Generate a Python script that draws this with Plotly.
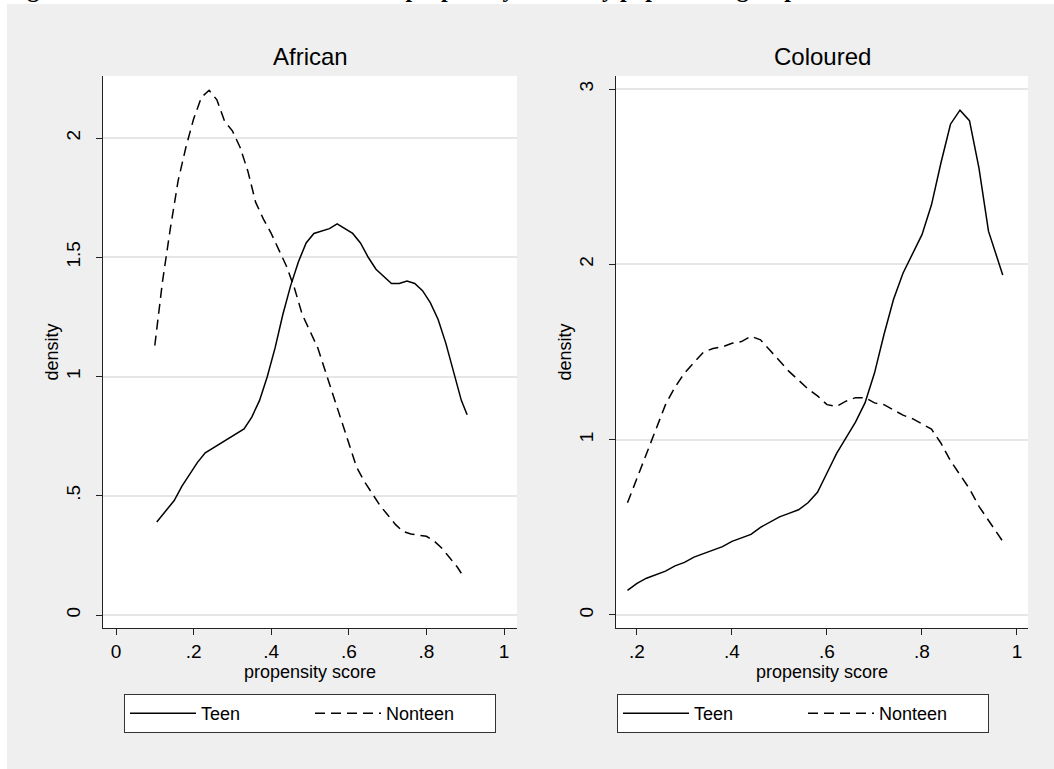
import plotly.graph_objects as go

# ---------------- data ----------------
african_x = [0.105, 0.13, 0.15, 0.17, 0.19, 0.21, 0.23, 0.25, 0.27, 0.29, 0.31, 0.33, 0.35, 0.37,
             0.39, 0.41, 0.43, 0.45, 0.47, 0.49, 0.51, 0.53, 0.55, 0.57, 0.59, 0.61, 0.63, 0.65,
             0.67, 0.69, 0.71, 0.73, 0.75, 0.77, 0.79, 0.81, 0.83, 0.85, 0.87, 0.89, 0.905]
african_teen = [0.39, 0.44, 0.48, 0.54, 0.59, 0.64, 0.68, 0.70, 0.72, 0.74, 0.76, 0.78, 0.83, 0.90,
                1.00, 1.12, 1.26, 1.38, 1.48, 1.56, 1.60, 1.61, 1.62, 1.64, 1.62, 1.60, 1.56, 1.50,
                1.45, 1.42, 1.39, 1.39, 1.40, 1.39, 1.36, 1.31, 1.24, 1.14, 1.02, 0.90, 0.84]

african_x_non = [0.10, 0.12, 0.14, 0.16, 0.18, 0.20, 0.22, 0.24, 0.26, 0.28, 0.30, 0.32, 0.34, 0.36,
                 0.38, 0.40, 0.42, 0.44, 0.46, 0.48, 0.50, 0.52, 0.54, 0.56, 0.58, 0.60, 0.62, 0.64,
                 0.66, 0.68, 0.70, 0.72, 0.74, 0.76, 0.78, 0.80, 0.82, 0.84, 0.86, 0.88, 0.89]
african_nonteen = [1.13, 1.40, 1.62, 1.82, 1.96, 2.08, 2.17, 2.20, 2.16, 2.07, 2.03, 1.96, 1.86, 1.73,
                   1.66, 1.60, 1.53, 1.46, 1.37, 1.26, 1.19, 1.12, 1.02, 0.92, 0.82, 0.73, 0.62, 0.56,
                   0.51, 0.46, 0.42, 0.38, 0.35, 0.34, 0.335, 0.33, 0.31, 0.28, 0.24, 0.20, 0.175]

coloured_x = [0.18, 0.20, 0.22, 0.24, 0.26, 0.28, 0.30, 0.32, 0.34, 0.36, 0.38, 0.40, 0.42, 0.44,
              0.46, 0.48, 0.50, 0.52, 0.54, 0.56, 0.58, 0.60, 0.62, 0.64, 0.66, 0.68, 0.70, 0.72,
              0.74, 0.76, 0.78, 0.80, 0.82, 0.84, 0.86, 0.88, 0.90, 0.92, 0.94, 0.96, 0.97]
coloured_teen = [0.14, 0.18, 0.21, 0.23, 0.25, 0.28, 0.30, 0.33, 0.35, 0.37, 0.39, 0.42, 0.44, 0.46,
                 0.50, 0.53, 0.56, 0.58, 0.60, 0.64, 0.70, 0.81, 0.92, 1.01, 1.10, 1.21, 1.38, 1.60,
                 1.80, 1.95, 2.06, 2.17, 2.34, 2.58, 2.80, 2.88, 2.82, 2.55, 2.19, 2.03, 1.94]
coloured_nonteen = [0.64, 0.78, 0.93, 1.07, 1.20, 1.30, 1.38, 1.44, 1.50, 1.52, 1.53, 1.55, 1.56, 1.59,
                    1.57, 1.51, 1.45, 1.39, 1.34, 1.29, 1.25, 1.20, 1.19, 1.22, 1.24, 1.24, 1.21, 1.20,
                    1.17, 1.14, 1.12, 1.09, 1.06, 0.98, 0.88, 0.80, 0.72, 0.62, 0.54, 0.46, 0.42]

series_names = ["Teen", "Nonteen"]
panel_titles = ["African", "Coloured"]
x_ticks_left = [0, 0.2, 0.4, 0.6, 0.8, 1]
x_ticktext_left = ["0", ".2", ".4", ".6", ".8", "1"]
x_ticks_right = [0.2, 0.4, 0.6, 0.8, 1]
x_ticktext_right = [".2", ".4", ".6", ".8", "1"]
y_ticks_left = [0, 0.5, 1, 1.5, 2]
y_ticktext_left = ["0", ".5", "1", "1.5", "2"]
y_ticks_right = [0, 1, 2, 3]
y_ticktext_right = ["0", "1", "2", "3"]
main_title = "Figure 3: Distribution of the estimated propensity scores by population group"

# ---------------- figure ----------------
W, H = 1054, 769
FONT = "Arial, 'Liberation Sans', sans-serif"
solid = dict(color="black", width=1.5)
dashed = dict(color="black", width=1.5, dash="10px,6px")

fig = go.Figure()
fig.add_trace(go.Scatter(x=african_x, y=african_teen, mode="lines", name=series_names[0],
                         line=solid, xaxis="x", yaxis="y", legend="legend"))
fig.add_trace(go.Scatter(x=african_x_non, y=african_nonteen, mode="lines", name=series_names[1],
                         line=dashed, xaxis="x", yaxis="y", legend="legend"))
fig.add_trace(go.Scatter(x=coloured_x, y=coloured_teen, mode="lines", name=series_names[0],
                         line=solid, xaxis="x2", yaxis="y2", legend="legend2"))
fig.add_trace(go.Scatter(x=coloured_x, y=coloured_nonteen, mode="lines", name=series_names[1],
                         line=dashed, xaxis="x2", yaxis="y2", legend="legend2"))

ydom = [1 - 628 / H, 1 - 76 / H]
axis_common = dict(showline=True, linecolor="#222", linewidth=1, ticks="outside", ticklen=6,
                   tickcolor="#222", tickwidth=1, zeroline=False,
                   tickfont=dict(family=FONT, size=19, color="black"))
xcommon = dict(axis_common, showgrid=False, ticklabelstandoff=0,
               title=dict(text="propensity score", font=dict(family=FONT, size=18, color="black"),
                          standoff=0))
ycommon = dict(axis_common, showgrid=True, gridcolor="#e6e6e6", gridwidth=1.5, tickangle=-90,
               ticklabelstandoff=8,
               title=dict(text="density", font=dict(family=FONT, size=18, color="black"),
                          standoff=0))

legend_common = dict(orientation="h", xanchor="center", y=1 - 694 / H, yanchor="top",
                     bgcolor="white", bordercolor="#333", borderwidth=1, entrywidth=104,
                     itemwidth=66, font=dict(family=FONT, size=18, color="black"),
                     traceorder="normal")

fig.update_layout(
    width=W, height=H,
    margin=dict(l=0, r=0, t=0, b=0),
    paper_bgcolor="#efefef",
    plot_bgcolor="white",
    font=dict(family=FONT, color="black"),
    xaxis=dict(xcommon, domain=[103 / W, 517 / W], range=[-0.0335, 1.0335], anchor="y",
               tickvals=x_ticks_left, ticktext=x_ticktext_left),
    yaxis=dict(ycommon, domain=ydom, range=[-0.0545, 2.26], anchor="x",
               tickvals=y_ticks_left, ticktext=y_ticktext_left),
    xaxis2=dict(xcommon, domain=[616 / W, 1028 / W], range=[0.1558, 1.0232], anchor="y2",
                tickvals=x_ticks_right, ticktext=x_ticktext_right),
    yaxis2=dict(ycommon, domain=ydom, range=[-0.0742, 3.075], anchor="x2",
                tickvals=y_ticks_right, ticktext=y_ticktext_right),
    legend=dict(legend_common, x=310 / W),
    legend2=dict(legend_common, x=803 / W),
    shapes=[
        dict(type="rect", xref="paper", yref="paper", x0=0, x1=1, y0=1 - 4 / H, y1=1.01,
             fillcolor="white", line=dict(width=0), layer="below"),
        dict(type="rect", xref="paper", yref="paper", x0=-0.01, x1=7 / W, y0=-0.01, y1=1.01,
             fillcolor="white", line=dict(width=0), layer="below"),
    ],
    annotations=[
        dict(text=panel_titles[0], xref="paper", yref="paper", x=310 / W, y=1 - 57 / H,
             xanchor="center", yanchor="middle", showarrow=False,
             font=dict(family=FONT, size=24, color="black")),
        dict(text=panel_titles[1], xref="paper", yref="paper", x=822 / W, y=1 - 57 / H,
             xanchor="center", yanchor="middle", showarrow=False,
             font=dict(family=FONT, size=24, color="black")),
        dict(text="<b>" + main_title + "</b>", xref="paper", yref="paper", x=5 / W, y=1 - 3 / H,
             xanchor="left", yanchor="bottom", showarrow=False, borderpad=0,
             font=dict(family="'Liberation Serif', 'Times New Roman', serif", size=24, color="black")),
    ],
)

fig.write_html("out.html", config={"displayModeBar": False},
               post_script="document.body.style.margin='0';")
